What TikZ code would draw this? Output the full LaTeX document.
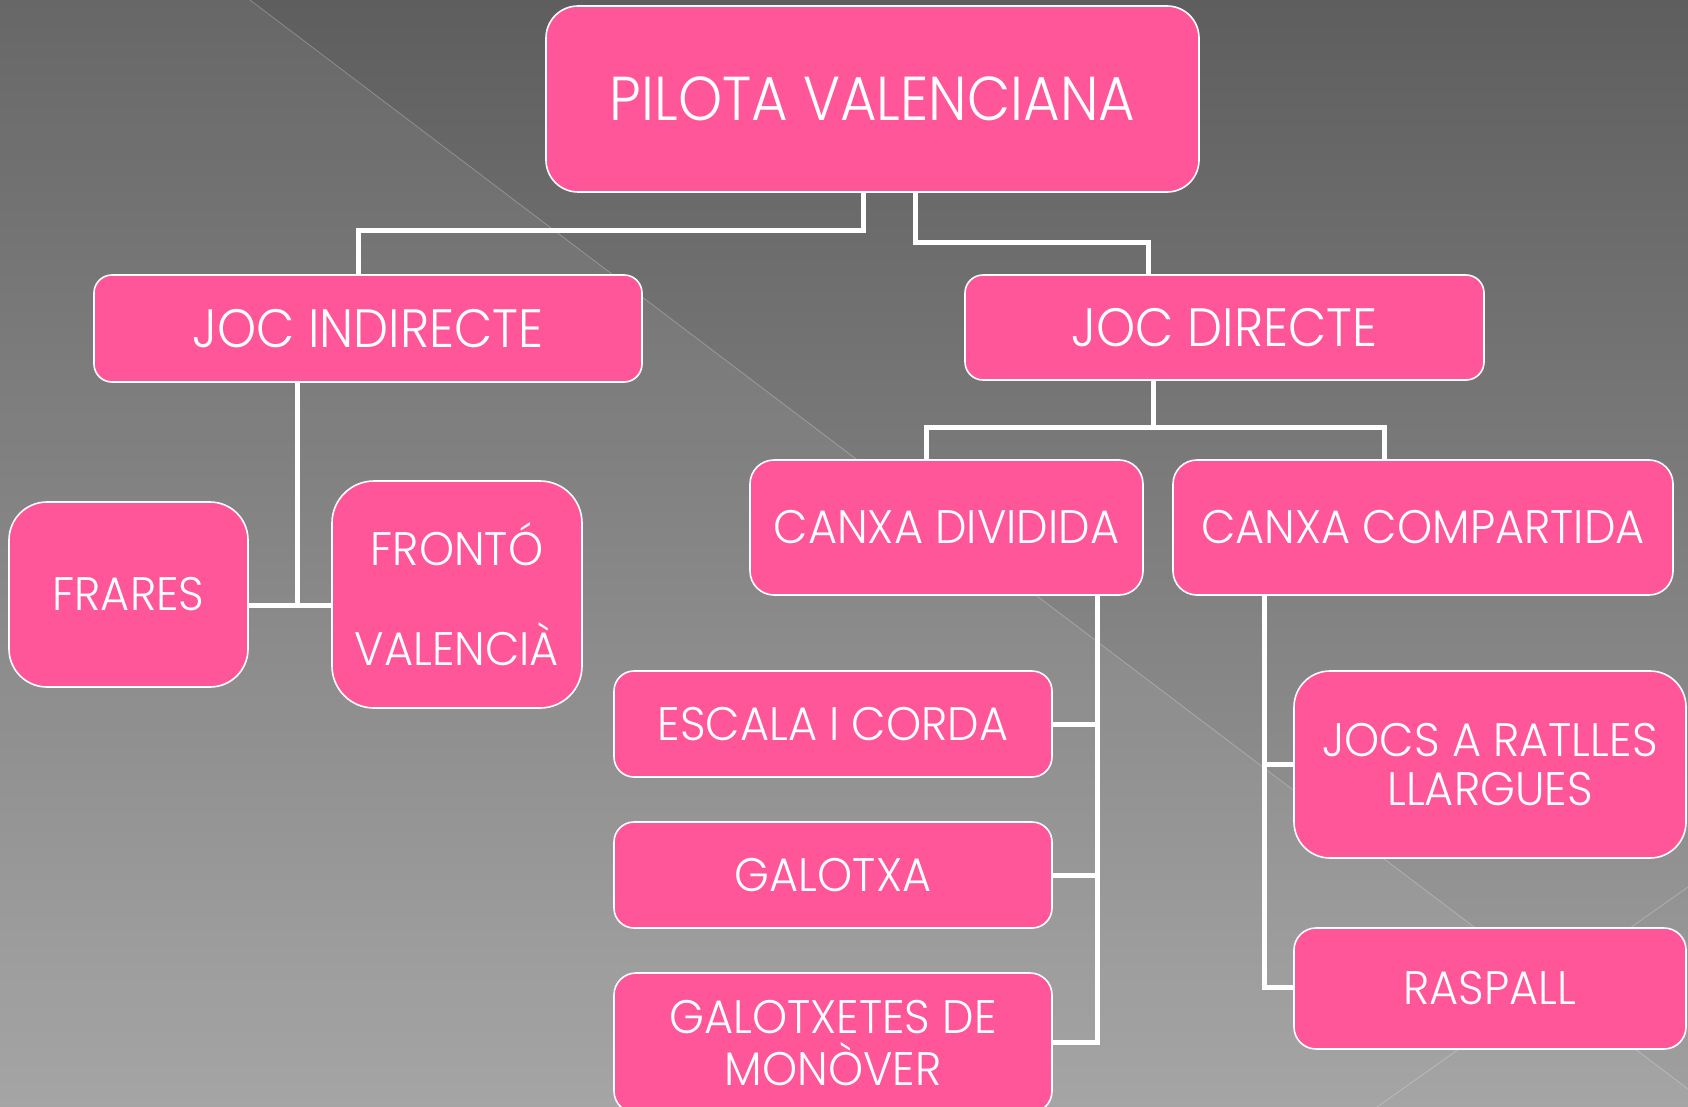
\documentclass[tikz,border=0pt]{standalone}
\usepackage{fontspec}
\setmainfont{Poppins Light}[FakeStretch=0.95]
\newfontfamily\fbigfam{Poppins Light}[FakeStretch=0.905]
\newfontfamily\fmidfam{Poppins Light}[FakeStretch=0.92]
\newfontfamily\fsmfam{Poppins Light}[FakeStretch=0.95]
\definecolor{pinkc}{HTML}{FF5599}
\definecolor{bgtop}{HTML}{5E5E5E}
\definecolor{bgbot}{HTML}{A0A0A0}
\begin{document}
\begin{tikzpicture}[x=1pt,y=-1pt,
  box/.style={draw=white, line width=1.6pt, fill=pinkc, text=white, inner sep=0pt, align=center, rounded corners=#1},
  fbig/.style={font=\fbigfam\fontsize{62}{70}\selectfont},
  fmid/.style={font=\fmidfam\fontsize{54}{60}\selectfont},
  fsm/.style={font=\fsmfam\fontsize{47}{52}\selectfont},
  conn/.style={draw=white, line width=5pt, line join=miter}]
\useasboundingbox (0,0) rectangle (1688,1107);
\shade[top color=bgtop, bottom color=bgbot] (0,0) rectangle (1688,1107);
\fill[white, opacity=0.06] (0,0) -- (250,0) -- (1688,1089) -- (1688,1107) -- (0,1107) -- cycle;
\draw[white, opacity=0.25, line width=0.8pt] (250,0) -- (1688,1089);
\draw[white, opacity=0.25, line width=0.8pt] (1688,887) -- (1377,1107);

\node[box=32pt, fbig, minimum width=653pt, minimum height=186pt] (pv) at (872.5,99) {PILOTA VALENCIANA};
\node[box=18pt, fmid, minimum width=548pt, minimum height=107pt] (ji) at (368,328.5) {JOC INDIRECTE};
\node[box=18pt, fmid, minimum width=519pt, minimum height=105pt] (jd) at (1224.5,327.5) {JOC DIRECTE};
\node[box=38pt, fsm, minimum width=239pt, minimum height=185pt] (fr) at (128.5,594.5) {FRARES};
\node[box=42pt, font=\fsmfam\fontsize{47}{100}\selectfont, minimum width=250pt, minimum height=227pt] (fv) at (457,594.5) {FRONTÓ\\VALENCIÀ};
\node[box=24pt, fsm, minimum width=393pt, minimum height=135pt] (cd) at (946.5,527.5) {CANXA DIVIDIDA};
\node[box=24pt, fsm, minimum width=500pt, minimum height=135pt] (cc) at (1423,527.5) {CANXA COMPARTIDA};
\node[box=20pt, fsm, minimum width=438pt, minimum height=106pt] (ec) at (833,724) {ESCALA I CORDA};
\node[box=20pt, fsm, minimum width=438pt, minimum height=106pt] (ga) at (833,875) {GALOTXA};
\node[box=22pt, font=\fsmfam\fontsize{47}{52}\selectfont, minimum width=438pt, minimum height=140pt] (gm) at (833,1043) {GALOTXETES DE\\MONÒVER};
\node[box=36pt, font=\fsmfam\fontsize{47}{49}\selectfont, minimum width=392pt, minimum height=187pt] (jr) at (1490,764.5) {JOCS A RATLLES\\LLARGUES};
\node[box=22pt, fsm, minimum width=392pt, minimum height=121pt] (ra) at (1490,988.5) {RASPALL};

\coordinate (k1a) at (863,231);
\coordinate (k1b) at (358,231);
\coordinate (k2a) at (915,243);
\coordinate (k2b) at (1148,243);
\coordinate (k3) at (297,605);
\coordinate (k4) at (1153,427);
\coordinate (k4a) at (926,427);
\coordinate (k4b) at (1384,427);
\coordinate (k5) at (1097,1042);
\coordinate (k6) at (1264,987);

\draw[conn] (pv.south -| k1a) -- (k1a) -- (k1b) -- (ji.north -| k1b);
\draw[conn] (pv.south -| k2a) -- (k2a) -- (k2b) -- (jd.north -| k2b);
\draw[conn] (ji.south -| k3) -- (k3);
\draw[conn] (fr.east |- k3) -- (fv.west |- k3);
\draw[conn] (jd.south -| k4) -- (k4);
\draw[conn] (cd.north -| k4a) -- (k4a) -- (k4b) -- (cc.north -| k4b);
\draw[conn] (cd.south -| k5) -- (k5) -- (gm.east |- k5);
\draw[conn] (ec.east) -- (ec.east -| k5);
\draw[conn] (ga.east) -- (ga.east -| k5);
\draw[conn] (cc.south -| k6) -- (k6) -- (ra.west |- k6);
\draw[conn] (jr.west) -- (jr.west -| k6);
\end{tikzpicture}
\end{document}
